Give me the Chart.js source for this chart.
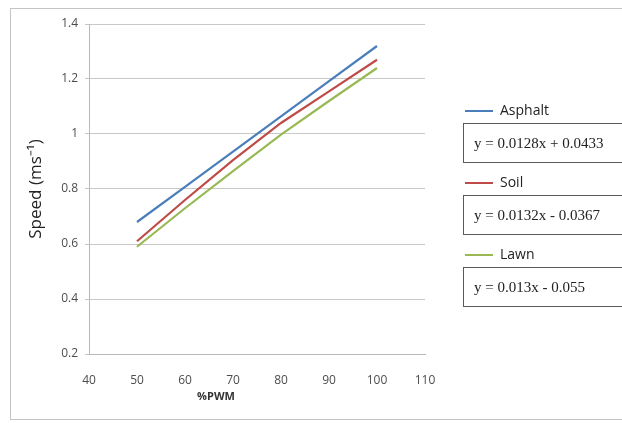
<!DOCTYPE html>
<html>
<head>
<meta charset="utf-8">
<script src="https://cdn.jsdelivr.net/npm/chart.js@4.4.1/dist/chart.umd.min.js"></script>
<style>
    html, body {
        margin: 0;
        padding: 0;
        width: 622px;
        height: 423px;
        overflow: hidden;
        background: #fff;
    }
    #frame {
        position: absolute;
        left: 10px;
        top: 8px;
        width: 700px;
        height: 410px;
        border: 1px solid #c4c4c4;
    }
    #wrap {
        position: absolute;
        left: 0;
        top: 0;
        width: 622px;
        height: 423px;
    }
    .lg-row {
        position: absolute;
        left: 465px;
        height: 20px;
        font-family: "Open Sans", sans-serif;
        font-size: 14px;
        color: #222;
        line-height: 20px;
        white-space: nowrap;
    }
    .lg-row .swatch {
        display: inline-block;
        width: 28px;
        height: 2px;
        vertical-align: middle;
        margin-right: 7px;
    }
    .lg-box {
        position: absolute;
        left: 463px;
        width: 200px;
        height: 38px;
        border: 1.5px solid #5a5a5a;
        font-family: "Liberation Serif", "Times New Roman", serif;
        font-size: 15px;
        color: #222;
        line-height: 38px;
        padding-left: 10px;
        white-space: nowrap;
    }
</style>
</head>
<body>
<div id="frame"></div>
<div id="wrap">
    <canvas id="speed-chart" width="622" height="423"></canvas>
</div>
<div id="legend"></div>
<script>
    // data
    var pwm = [50, 60, 70, 80, 90, 100];
    var asphalt = [0.68, 0.808, 0.936, 1.064, 1.192, 1.32];
    var soil = [0.61, 0.76, 0.905, 1.04, 1.155, 1.27];
    var lawn = [0.59, 0.73, 0.865, 0.998, 1.12, 1.24];

    var seriesNames = ['Asphalt', 'Soil', 'Lawn'];
    var seriesColors = ['#4a7ebb', '#be4b48', '#98b954'];
    var equations = ['y = 0.0128x + 0.0433', 'y = 0.0132x - 0.0367', 'y = 0.013x - 0.055'];

    var yTicks = [0.2, 0.4, 0.6, 0.8, 1, 1.2, 1.4];
    var xTicks = [40, 50, 60, 70, 80, 90, 100, 110];

    var seriesValues = [asphalt, soil, lawn];

    function toPoints(values) {
        return values.map(function(v, i) {
            return { x: pwm[i], y: v };
        });
    }

    /**
     * Legend with the fitted equations in boxes
     */
    var legend = document.getElementById('legend');
    seriesNames.forEach(function(name, i) {
        var boxTop = 123 + i * 72;

        var row = document.createElement('div');
        row.className = 'lg-row';
        row.style.top = (boxTop - 23) + 'px';
        row.innerHTML = '<span class="swatch" style="background:' + seriesColors[i] + '"></span>' + name;
        legend.appendChild(row);

        var box = document.createElement('div');
        box.className = 'lg-box';
        box.style.top = boxTop + 'px';
        box.textContent = equations[i];
        legend.appendChild(box);
    });

    // x axis title sits left of centre in the original
    var xTitlePlugin = {
        id: 'xTitle',
        afterDraw: function(chart) {
            var ctx = chart.ctx;
            var area = chart.chartArea;
            ctx.save();
            ctx.font = 'bold 11px "Open Sans", sans-serif';
            ctx.fillStyle = '#333';
            ctx.textAlign = 'center';
            ctx.textBaseline = 'middle';
            ctx.fillText('%PWM', area.left + 127, area.bottom + 43);
            ctx.restore();
        }
    };

    var ctx = document.getElementById('speed-chart').getContext('2d');

    new Chart(ctx, {
        type: 'line',
        data: {
            datasets: seriesNames.map(function(name, i) {
                return {
                    label: name,
                    data: toPoints(seriesValues[i]),
                    borderColor: seriesColors[i],
                    backgroundColor: seriesColors[i],
                    borderWidth: 2.2,
                    pointRadius: 0,
                    tension: 0,
                    fill: false
                };
            })
        },
        options: {
            responsive: false,
            animation: false,
            layout: {
                padding: { left: 10, right: 197, top: 24, bottom: 0 }
            },
            plugins: {
                legend: { display: false },
                tooltip: { enabled: false }
            },
            scales: {
                x: {
                    type: 'linear',
                    min: xTicks[0],
                    max: xTicks[xTicks.length - 1],
                    afterBuildTicks: function(scale) {
                        scale.ticks = xTicks.map(function(v) { return { value: v }; });
                    },
                    afterFit: function(scale) {
                        scale.height = 69;
                    },
                    ticks: {
                        padding: 11,
                        color: '#4d4d4d',
                        font: { family: '"Open Sans", sans-serif', size: 12 },
                        maxRotation: 0
                    },
                    grid: { display: false },
                    border: { display: true, color: '#b8b8b8', width: 1 }
                },
                y: {
                    type: 'linear',
                    min: yTicks[0],
                    max: yTicks[yTicks.length - 1],
                    afterBuildTicks: function(scale) {
                        scale.ticks = yTicks.map(function(v) { return { value: v }; });
                    },
                    afterFit: function(scale) {
                        scale.width = 79;
                    },
                    ticks: {
                        padding: 7,
                        color: '#4d4d4d',
                        font: { family: '"Open Sans", sans-serif', size: 12 },
                        callback: function(value) {
                            return String(+value.toFixed(1));
                        }
                    },
                    grid: {
                        color: '#c8c8c8',
                        lineWidth: 1,
                        tickLength: 4
                    },
                    border: { display: true, color: '#b8b8b8', width: 1 },
                    title: {
                        display: true,
                        text: 'Speed (ms\u207B\u00B9)',
                        color: '#222',
                        font: { family: '"Open Sans", sans-serif', size: 17 },
                        padding: { top: 16, bottom: 0 }
                    }
                }
            }
        },
        plugins: [xTitlePlugin]
    });
</script>
</body>
</html>
